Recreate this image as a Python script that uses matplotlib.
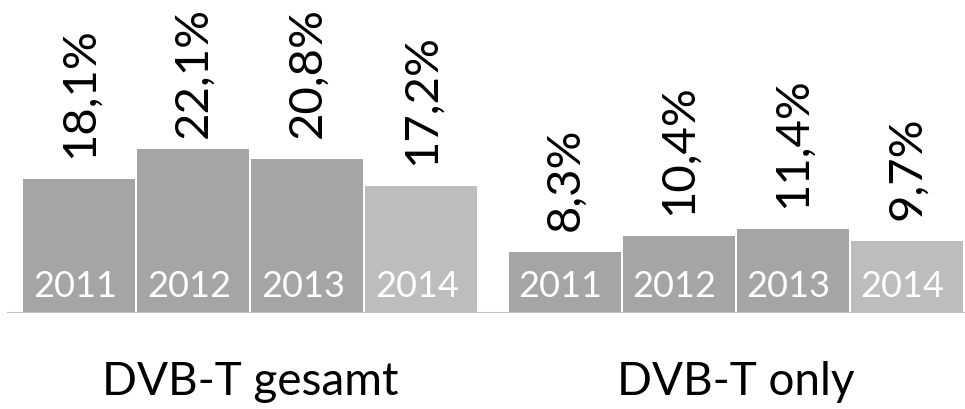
"""Bar chart: DVB-T share by year, total vs. DVB-T only."""

import matplotlib

matplotlib.use("Agg")
import matplotlib.pyplot as plt
import numpy as np

plt.rcParams["font.family"] = ["Lato", "DejaVu Sans"]

YEARS = ["2011", "2012", "2013", "2014"]
GROUPS = ["DVB-T gesamt", "DVB-T only"]
GESAMT = [18.1, 22.1, 20.8, 17.2]
ONLY = [8.3, 10.4, 11.4, 9.7]

DARK = "#a5a5a5"
LIGHT = "#bdbdbd"
GROUP_GAP = 4.26
LABEL_PAD = 2.8
LABEL_CAP = 23.6

fig = plt.figure(figsize=(9.65, 4.09), dpi=100)
ax = fig.add_axes([0, 96 / 409, 1, 313 / 409])

for g, (name, vals) in enumerate(zip(GROUPS, [GESAMT, ONLY])):
    xs = np.arange(len(YEARS)) + g * GROUP_GAP
    colors = [DARK] * (len(YEARS) - 1) + [LIGHT]
    ax.bar(xs, vals, width=0.982, color=colors, edgecolor="none")
    for x, v, yr in zip(xs, vals, YEARS):
        lab = f"{v:.1f}%".replace(".", ",")
        ax.text(x, min(v + LABEL_PAD, LABEL_CAP), lab, rotation=90,
                ha="center", va="bottom", fontsize=34, color="black")
        ax.text(x - 0.04, 2.2, yr, ha="center", va="baseline", fontsize=26,
                color="white")
    fig.text((xs.mean() + 0.697) * 114 / 965, 14 / 409, name,
             ha="center", va="baseline", fontsize=33, color="black")

ax.axhline(0, xmin=8 / 965, xmax=1, color="#c0c0c0", lw=1.5)
ax.set_xlim(-0.697, 7.768)
ax.set_ylim(0, 313 / 7.4)
ax.axis("off")

fig.savefig("out.png", dpi=100)
